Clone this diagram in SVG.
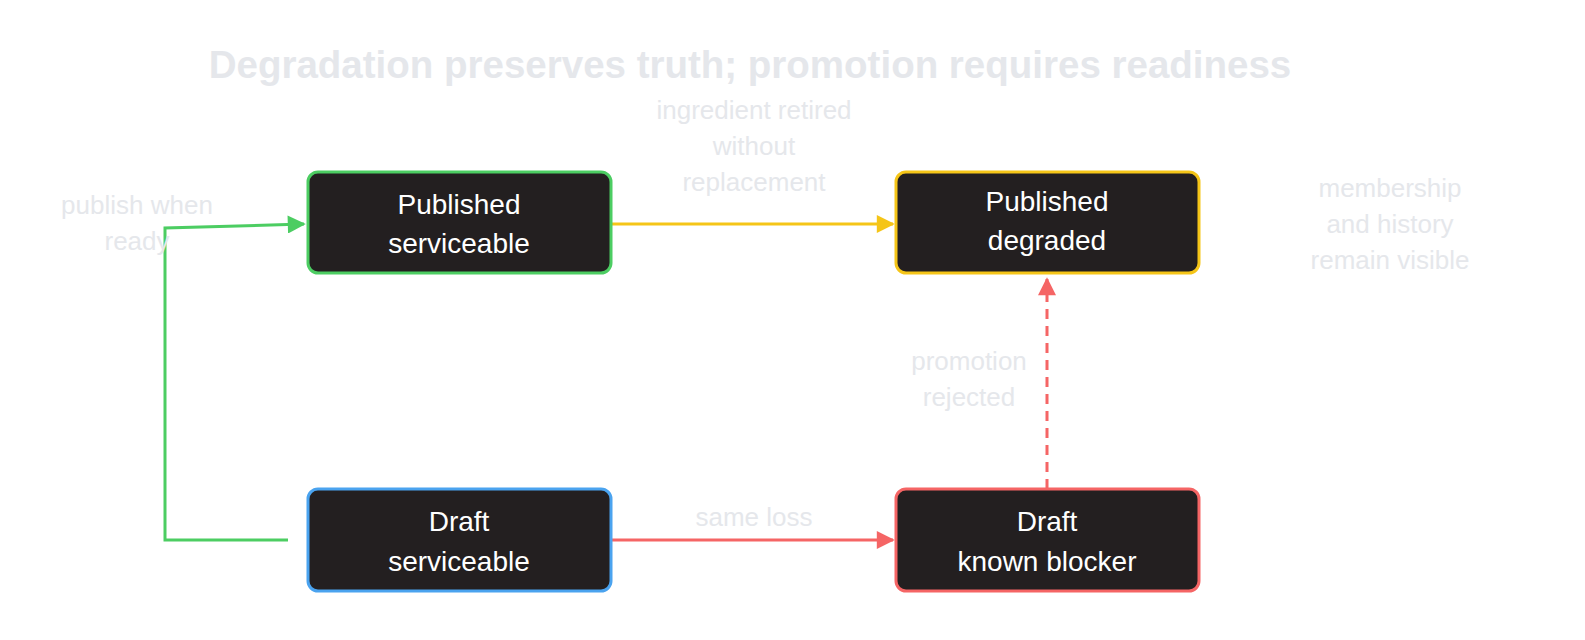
<svg xmlns="http://www.w3.org/2000/svg" width="1585" height="640" viewBox="0 0 1585 640">
<style>
.n{fill:#231f20;stroke-width:3}
.t{font-family:"Liberation Sans",Arial,sans-serif;font-size:28px;fill:#ffffff;text-anchor:middle}
.l{font-family:"Liberation Sans",Arial,sans-serif;font-size:26px;fill:#e5e7eb;text-anchor:middle}
.c{fill:none;stroke-width:3}
</style>
<defs>
<marker id="ay" viewBox="0 0 10 10" refX="9" refY="5" markerWidth="24" markerHeight="18" markerUnits="userSpaceOnUse" orient="auto"><path d="M0,0L10,5L0,10z" fill="#f5c518"/></marker>
<marker id="ar" viewBox="0 0 10 10" refX="9" refY="5" markerWidth="24" markerHeight="18" markerUnits="userSpaceOnUse" orient="auto"><path d="M0,0L10,5L0,10z" fill="#f56565"/></marker>
<marker id="ag" viewBox="0 0 10 10" refX="9" refY="5" markerWidth="24" markerHeight="18" markerUnits="userSpaceOnUse" orient="auto"><path d="M0,0L10,5L0,10z" fill="#4ccd62"/></marker>
</defs>
<rect width="1585" height="640" fill="#ffffff"/>
<text x="750" y="78" font-family="Liberation Sans,Arial,sans-serif" font-size="38.5" font-weight="bold" fill="#e5e7eb" text-anchor="middle">Degradation preserves truth; promotion requires readiness</text>
<g id="connectors">
<path class="c" stroke="#f5c518" d="M611,224L893,224" style="marker-end:url(#ay)"/>
<path class="c" stroke="#f56565" d="M611,540L893,540" style="marker-end:url(#ar)"/>
<path class="c" stroke="#f56565" stroke-dasharray="10,7" d="M1047,489L1047,279" style="marker-end:url(#ar)"/>
<path class="c" stroke="#4ccd62" d="M288,540L165,540L165,228L304,224" style="marker-end:url(#ag)"/>
<text class="l"><tspan x="754" y="119">ingredient retired</tspan><tspan x="754" y="155">without</tspan><tspan x="754" y="191">replacement</tspan></text>
<text class="l" x="754" y="526">same loss</text>
<text class="l"><tspan x="969" y="370">promotion</tspan><tspan x="969" y="406">rejected</tspan></text>
<text class="l"><tspan x="137" y="214">publish when</tspan><tspan x="137" y="250">ready</tspan></text>
<text class="l"><tspan x="1390" y="197">membership</tspan><tspan x="1390" y="233">and history</tspan><tspan x="1390" y="269">remain visible</tspan></text>
</g>
<g id="published-serviceable"><rect class="n" x="308" y="172" width="303" height="101" rx="10" stroke="#4ccd62"/><text class="t"><tspan x="459" y="214">Published</tspan><tspan x="459" y="253">serviceable</tspan></text></g>
<g id="published-degraded"><rect class="n" x="896" y="172" width="303" height="101" rx="10" stroke="#f5c518"/><text class="t"><tspan x="1047" y="211">Published</tspan><tspan x="1047" y="250">degraded</tspan></text></g>
<g id="draft-serviceable"><rect class="n" x="308" y="489" width="303" height="102" rx="10" stroke="#4aa3ef"/><text class="t"><tspan x="459" y="531">Draft</tspan><tspan x="459" y="571">serviceable</tspan></text></g>
<g id="draft-blocker"><rect class="n" x="896" y="489" width="303" height="102" rx="10" stroke="#f56565"/><text class="t"><tspan x="1047" y="531">Draft</tspan><tspan x="1047" y="571">known blocker</tspan></text></g>
</svg>
